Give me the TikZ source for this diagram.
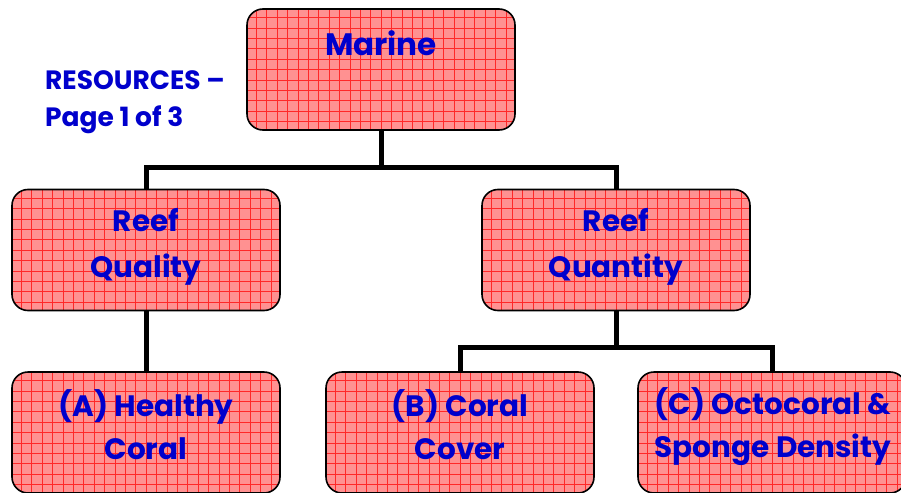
\documentclass[tikz,border=0pt]{standalone}
\usepackage{fontspec}
\setmainfont{Poppins}
\definecolor{boxfill}{RGB}{255,145,145}
\definecolor{gridred}{RGB}{255,40,40}
\definecolor{txtblue}{RGB}{0,0,204}
\begin{document}
\begin{tikzpicture}[x=1pt,y=-1pt,
  box/.style={draw=black, line width=1.6pt, rounded corners=16pt, fill=boxfill,
    minimum width=268pt, minimum height=121pt, inner sep=0pt,
    path picture={\draw[step=10.4pt, gridred, line width=0.5pt]
      (path picture bounding box.south west) grid (path picture bounding box.north east);}},
  boxtxt/.style={text=txtblue, align=center, inner sep=0pt},
  conn/.style={draw=black, line width=5pt},
  lbl/.style={text=txtblue, font=\fontsize{26.5}{37}\selectfont\bfseries, align=left, inner sep=0pt}]
\useasboundingbox (0,0) rectangle (901,492);
\clip (0,0) rectangle (901,492);
\node[box] (marine) at (381,69.5) {};
\node[box] (qual) at (146,250) {};
\node[box] (quan) at (616,250) {};
\node[box] (a) at (146,432.5) {};
\node[box] (b) at (460,432.5) {};
\node[box] (c) at (772,432.5) {};
\node[boxtxt, font=\fontsize{31}{36}\selectfont\bfseries] (marinetxt) at (381,43) {Marine};
\node[boxtxt, font=\fontsize{29.5}{46}\selectfont\bfseries] (qualtxt) at (146,247) {Reef\\Quality};
\node[boxtxt, font=\fontsize{29.5}{46}\selectfont\bfseries] (quantxt) at (616,247) {Reef\\Quantity};
\node[boxtxt, font=\fontsize{29.5}{43}\selectfont\bfseries] (atxt) at (146,425) {(A) Healthy\\Coral};
\node[boxtxt, font=\fontsize{29.5}{43}\selectfont\bfseries] (btxt) at (460,425) {(B) Coral\\Cover};
\node[boxtxt, font=\fontsize{29.5}{43}\selectfont\bfseries] (ctxt) at (773,427) {(C) Octocoral \&\\Sponge Density};
\node[lbl, anchor=west] (res) at (45,102) {RESOURCES –\\Page 1 of 3};
\draw[conn] (marine.south) -- ++(0,37) coordinate (j1) -| (qual.north);
\draw[conn] (j1) -| (quan.north);
\draw[conn] (qual.south) -- (a.north);
\draw[conn] (quan.south) -- ++(0,36) coordinate (j2) -| (b.north);
\draw[conn] (j2) -| (c.north);
\end{tikzpicture}
\end{document}
